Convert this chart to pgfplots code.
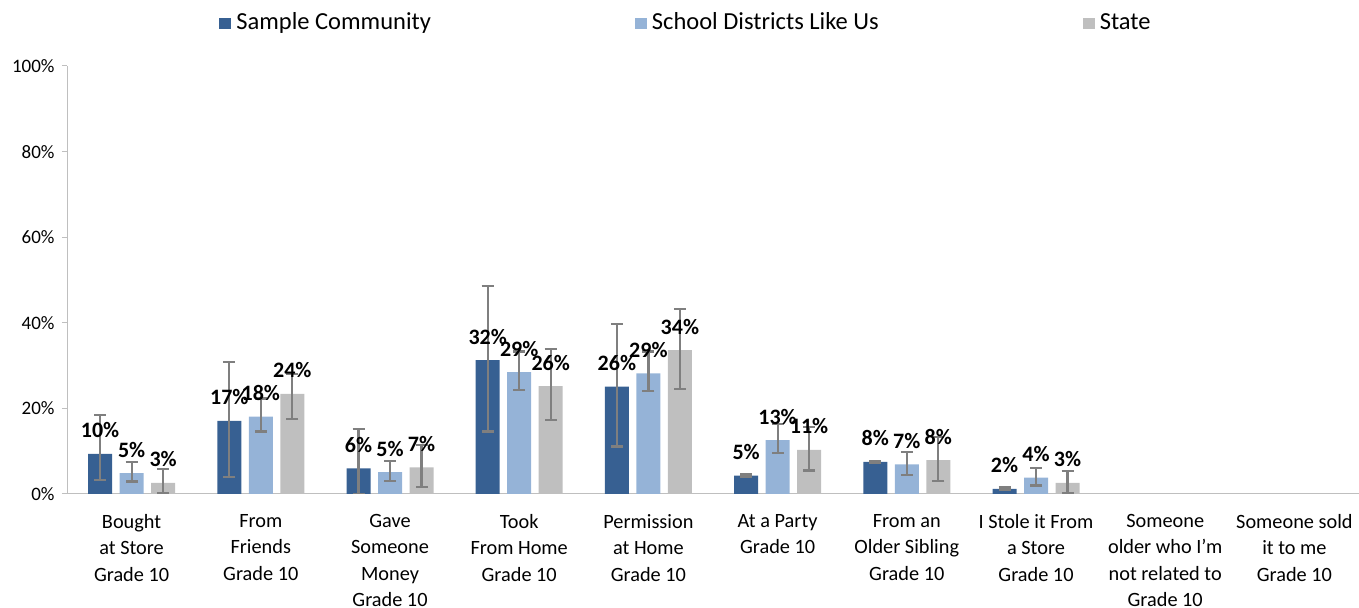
\documentclass[border=0pt]{standalone}
\usepackage{fontspec}
\setmainfont{Carlito}
\usepackage{pgfplots}
\usepackage{pgfplotstable}
\pgfplotsset{compat=1.18}
\definecolor{cDark}{HTML}{376092}
\definecolor{cLight}{HTML}{95B3D7}
\definecolor{cGray}{HTML}{BFBFBF}
\definecolor{cErr}{HTML}{7F7F7F}
\definecolor{cAxis}{HTML}{BFBFBF}

\pgfplotstableread{
x y ep em lab
0 9.4 9.0 6.2 10
1 17.1 13.7 13.1 17
2 6.0 9.2 6.0 6
3 31.3 17.3 16.7 32
4 25.1 14.7 14.0 26
5 4.3 0.3 0.2 5
6 7.5 0.3 0.2 8
7 1.2 0.3 0.2 2
}\dataA
\pgfplotstableread{
x y ep em lab
0 4.9 2.5 2.0 5
1 18.1 4.2 3.5 18
2 5.1 2.6 2.0 5
3 28.5 4.8 4.2 29
4 28.2 5.1 4.1 29
5 12.6 3.7 3.0 13
6 6.9 2.9 2.4 7
7 3.8 2.3 1.8 4
}\dataB
\pgfplotstableread{
x y ep em lab
0 2.6 3.2 2.4 3
1 23.4 4.6 5.8 24
2 6.2 5.2 4.6 7
3 25.2 8.6 8.0 26
4 33.6 9.6 9.0 34
5 10.3 5.4 4.8 11
6 7.9 5.5 4.9 8
7 2.6 2.8 2.3 3
}\dataC

\begin{document}
\begin{tikzpicture}
\useasboundingbox (0bp,0bp) rectangle (1359bp,608bp);
\begin{axis}[
  at={(67bp,114bp)}, anchor=south west,
  width=1292bp, height=428bp, scale only axis,
  ymin=0, ymax=100, xmin=-0.5, xmax=9.5,
  ybar=7.5bp, bar width=24bp,
  axis x line*=bottom, axis y line*=left,
  axis line style={cAxis, line width=1bp},
  ytick={0,20,...,100},
  yticklabel={\pgfmathprintnumber{\tick}\%},
  /pgf/number format/assume math mode=true,
  yticklabel style={font=\fontsize{19bp}{22bp}\selectfont, xshift=-4bp},
  y tick style={cAxis, line width=1bp},
  tick align=outside, major tick length=5bp,
  x tick style={draw=none},
  xtick={0,...,9},
  xticklabels={{Bought\\at Store\\Grade 10},{From\\Friends\\Grade 10},{Gave\\Someone\\Money\\Grade 10},{Took\\From Home\\Grade 10},{Permission\\at Home\\Grade 10},{At a Party\\Grade 10},{From an\\Older Sibling\\Grade 10},{I Stole it From\\a Store\\Grade 10},{Someone\\older who I'm\\not related to\\Grade 10},{Someone sold\\it to me\\Grade 10}},
  xticklabel style={align=center, font=\fontsize{20.3bp}{26.5bp}\selectfont, anchor=north, inner ysep=0.5bp, yshift=-14.5bp},
  point meta=explicit,
  nodes near coords={\pgfmathprintnumber{\pgfplotspointmeta}\%},
  every node near coord/.append style={font=\bfseries\fontsize{22bp}{24bp}\selectfont, anchor=center, yshift=23.5bp, black},
  error bars/y dir=both, error bars/y explicit,
  error bars/error bar style={cErr, line width=2.2bp},
  error bars/error mark options={cErr, rotate=90, mark size=6bp, line width=2.2bp},
  legend columns=3,
  legend image code/.code={\fill[#1] (0bp,-7bp) rectangle (12bp,4bp);},
  legend style={at={(0.4791,1.1028)}, anchor=center, draw=none, fill=none,
    font=\fontsize{24.5bp}{28bp}\selectfont,
    /tikz/every odd column/.append style={column sep=3bp},
    /tikz/every even column/.append style={column sep=202bp}},
]
\addplot[fill=cDark, draw=none] table[x=x, y=y, y error plus=ep, y error minus=em, meta=lab] {\dataA};
\addlegendentry{Sample Community}
\addplot[fill=cLight, draw=none] table[x=x, y=y, y error plus=ep, y error minus=em, meta=lab] {\dataB};
\addlegendentry{School Districts Like Us}
\addplot[fill=cGray, draw=none] table[x=x, y=y, y error plus=ep, y error minus=em, meta=lab] {\dataC};
\addlegendentry{State}
\end{axis}
\end{tikzpicture}
\end{document}
